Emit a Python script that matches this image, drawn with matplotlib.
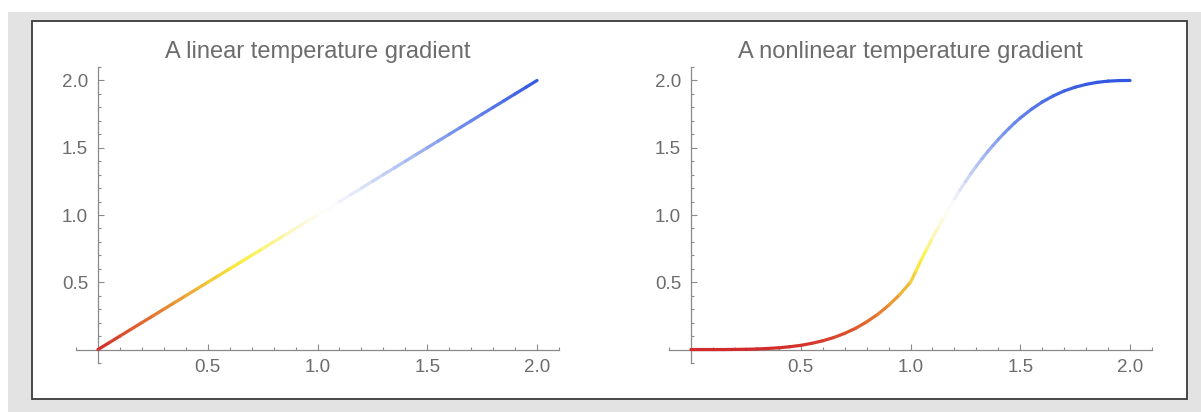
import matplotlib
matplotlib.use("Agg")
import matplotlib.pyplot as plt
from matplotlib.collections import LineCollection
from matplotlib.colors import LinearSegmentedColormap, Normalize
from matplotlib.patches import Rectangle
import numpy as np

plt.rcParams["font.family"] = ["Liberation Sans", "DejaVu Sans"]

# --- data ---
titles = ["A linear temperature gradient", "A nonlinear temperature gradient"]

lin_x = [0.00, 0.05, 0.10, 0.15, 0.20, 0.25, 0.30, 0.35, 0.40, 0.45,
         0.50, 0.55, 0.60, 0.65, 0.70, 0.75, 0.80, 0.85, 0.90, 0.95,
         1.00, 1.05, 1.10, 1.15, 1.20, 1.25, 1.30, 1.35, 1.40, 1.45,
         1.50, 1.55, 1.60, 1.65, 1.70, 1.75, 1.80, 1.85, 1.90, 1.95, 2.00]
lin_y = [0.00, 0.05, 0.10, 0.15, 0.20, 0.25, 0.30, 0.35, 0.40, 0.45,
         0.50, 0.55, 0.60, 0.65, 0.70, 0.75, 0.80, 0.85, 0.90, 0.95,
         1.00, 1.05, 1.10, 1.15, 1.20, 1.25, 1.30, 1.35, 1.40, 1.45,
         1.50, 1.55, 1.60, 1.65, 1.70, 1.75, 1.80, 1.85, 1.90, 1.95, 2.00]

nl_x = [0.00, 0.05, 0.10, 0.15, 0.20, 0.25, 0.30, 0.35, 0.40, 0.45,
        0.50, 0.55, 0.60, 0.65, 0.70, 0.75, 0.80, 0.85, 0.90, 0.95,
        1.000, 1.025, 1.050, 1.075, 1.100, 1.125, 1.150, 1.175, 1.200,
        1.225, 1.250, 1.275, 1.300, 1.325, 1.350, 1.375, 1.400, 1.425,
        1.450, 1.475, 1.500,
        1.55, 1.60, 1.65, 1.70, 1.75, 1.80, 1.85, 1.90, 1.95, 2.00]
nl_y = [0.000, 0.000, 0.000, 0.000, 0.001, 0.002, 0.004, 0.008, 0.013, 0.021,
        0.031, 0.046, 0.065, 0.089, 0.120, 0.158, 0.205, 0.261, 0.328, 0.407,
        0.500, 0.585, 0.670, 0.750, 0.830, 0.905, 0.980, 1.050, 1.120,
        1.185, 1.247, 1.307, 1.363, 1.417, 1.468, 1.516, 1.562, 1.605,
        1.646, 1.685, 1.721,
        1.785, 1.840, 1.885, 1.922, 1.950, 1.971, 1.986, 1.995, 1.999, 2.000]

# temperature-style map, low = red, high = blue
temp_stops = [(0.00, "#d12b2b"), (0.15, "#e8832f"), (0.25, "#f0c63a"),
              (0.33, "#faf03c"), (0.45, "#fbf8c8"), (0.53, "#ffffff"),
              (0.65, "#c7d3f5"), (0.80, "#7e98ec"), (1.00, "#3457e3")]
cmap = LinearSegmentedColormap.from_list("temp", temp_stops)
norm = Normalize(0.0, 2.0)

W, H = 1201, 412
fig = plt.figure(figsize=(W / 100, H / 100), dpi=100)


def px_rect(x0, y0, x1, y1, **kw):
    """Rectangle given in pixel coords (origin top-left)."""
    return Rectangle((x0 / W, 1 - y1 / H), (x1 - x0) / W, (y1 - y0) / H,
                     transform=fig.transFigure, **kw)


fig.patches.append(px_rect(8, 12, W, H, facecolor="#e3e3e3", edgecolor="none", zorder=-2))
fig.patches.append(px_rect(32, 21, 1187, 399, facecolor="white", edgecolor="#3a3a3a",
                           linewidth=1.3, zorder=-1))

axis_grey = "#8a8a8a"
text_grey = "#6c6c6c"


def gradient_line(ax, xs, ys):
    pts = np.column_stack([xs, ys]).reshape(-1, 1, 2)
    segs = np.concatenate([pts[:-1], pts[1:]], axis=1)
    mid = (np.asarray(ys[:-1]) + np.asarray(ys[1:])) / 2
    lc = LineCollection(segs, colors=cmap(norm(mid)), linewidths=2.3,
                        capstyle="round", joinstyle="round", zorder=3)
    lc.set_snap(False)
    ax.add_collection(lc)


for i, (xs, ys) in enumerate([(lin_x, lin_y), (nl_x, nl_y)]):
    left_px = 76 if i == 0 else 669
    ax = fig.add_axes([left_px / W, 1 - 363 / H, 483 / W, 296 / H])
    ax.set_facecolor("none")
    ax.set_xlim(-0.1, 2.1)
    ax.set_ylim(-0.1, 2.1)
    gradient_line(ax, xs, ys)

    for side in ("top", "right"):
        ax.spines[side].set_visible(False)
    for side in ("left", "bottom"):
        ax.spines[side].set_position(("data", 0))
        ax.spines[side].set_color(axis_grey)
        ax.spines[side].set_linewidth(0.9)
        ax.spines[side].set_zorder(2)

    major = [0.5, 1.0, 1.5, 2.0]
    minor = [round(-0.1 + 0.1 * k, 1) for k in range(23)]
    minor = [m for m in minor if m not in major]
    ax.set_xticks(major)
    ax.set_yticks(major)
    ax.set_xticks(minor, minor=True)
    ax.set_yticks(minor, minor=True)
    ax.set_xticklabels(["0.5", "1.0", "1.5", "2.0"])
    ax.set_yticklabels(["0.5", "1.0", "1.5", "2.0"])
    ax.tick_params(which="both", direction="in", color=axis_grey, width=0.8,
                   labelcolor=text_grey, labelsize=13.5)
    ax.tick_params(which="major", length=4, pad=7)
    ax.tick_params(which="minor", length=2.3)

    ax.text(0.5, 1 + 15 / 296, titles[i], transform=ax.transAxes, ha="center",
            va="center", fontsize=17, color=text_grey)

fig.savefig("out.png", dpi=100)
